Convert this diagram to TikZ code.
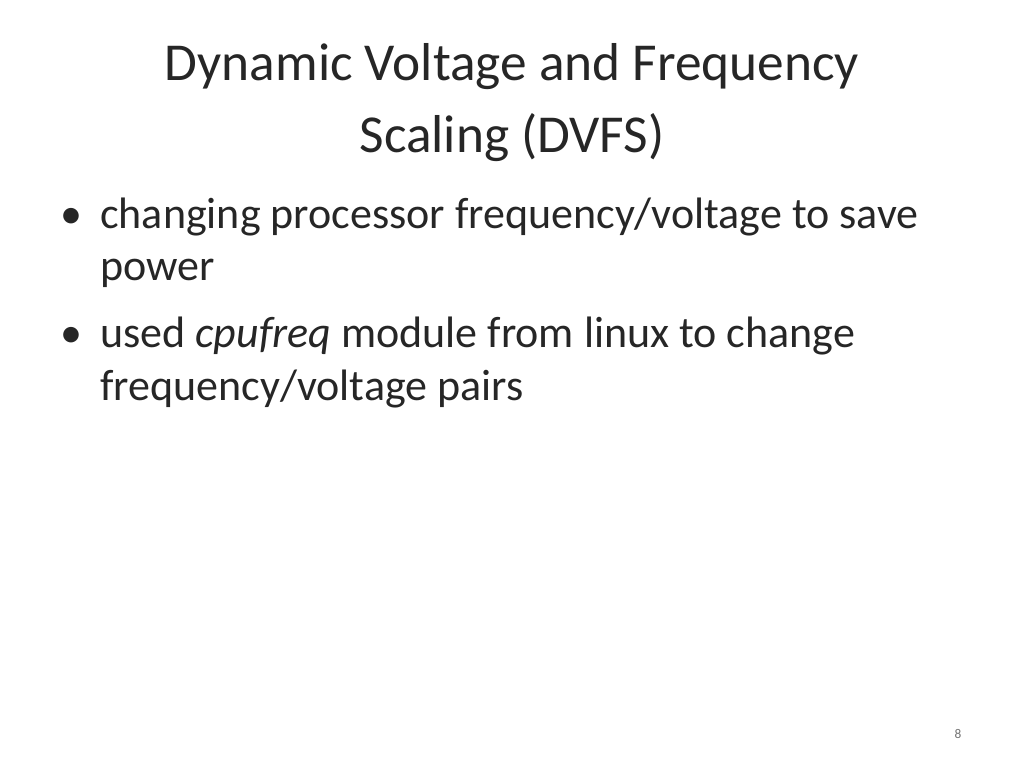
\documentclass[tikz,border=0pt]{standalone}
\usepackage{fontspec}
\setmainfont{Carlito}
\begin{document}
\begin{tikzpicture}[x=0.75pt,y=-0.75pt,
  title/.style={font=\fontsize{40}{48}\selectfont,anchor=base,inner sep=0pt,text=black!85},
  body/.style={font=\fontsize{33}{40}\selectfont,anchor=base west,inner sep=0pt,text=black!85}]
\useasboundingbox (0,0) rectangle (1024,768);
\node[title] (t1) at (512,80) {Dynamic Voltage and Frequency};
\node[title] (t2) at (512,152) {Scaling (DVFS)};
\node[body] (b1d) at (60,228) {•};
\node[body] (b1) at (100,228) {changing processor frequency/voltage to save};
\node[body] (b1b) at (100,280) {power};
\node[body] (b2d) at (60,347) {•};
\node[body] (b2) at (100,347) {used \textit{cpufreq} module from linux to change};
\node[body] (b2b) at (100,400) {frequency/voltage pairs};
\node[font=\fontsize{10}{12}\selectfont,text=black!55,anchor=base] (pg) at (958,738) {8};
\end{tikzpicture}
\end{document}
